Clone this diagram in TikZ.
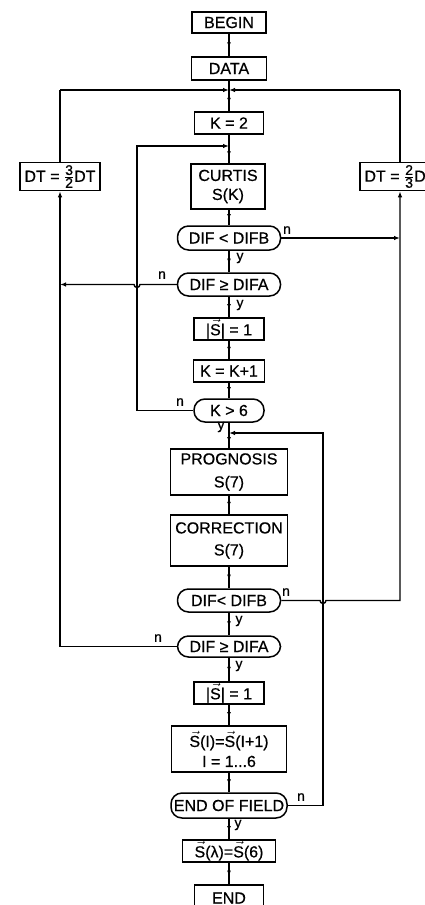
\documentclass[tikz,border=0pt]{standalone}
\usepackage{fontspec}
\setmainfont{Liberation Sans}[FakeBold=0.6]
\usetikzlibrary{arrows.meta,decorations.markings,calc}
\newcommand{\vecS}{\ensuremath{\vec{\mbox{S}}}}
\newcommand{\frc}[2]{\ensuremath{\frac{\mbox{\fontsize{14}{14}\selectfont #1}}{\mbox{\fontsize{14}{14}\selectfont #2}}}}
\tikzset{
  box/.style={draw, line width=1.5pt, inner sep=0pt, align=center, font=\fontsize{16}{21}\selectfont},
  dec/.style={box, rounded corners=11pt},
  line/.style={line width=1.4pt},
  midarrow/.style={line, postaction={decorate}, decoration={markings, mark=at position 0.6 with {\arrow{Latex[length=5pt,width=4pt]}}}},
  endarrow/.style={line, -{Latex[length=6pt,width=4.5pt]}},
  lab/.style={font=\fontsize{14}{16}\selectfont, inner sep=0pt},
}
\begin{document}
\begin{tikzpicture}[x=1pt,y=-1pt]
\useasboundingbox (0,0) rectangle (425,905);
% main column
\node[box, minimum width=74pt, minimum height=21pt] (begin) at (229,22.5) {BEGIN};
\node[box, minimum width=75pt, minimum height=23pt] (data) at (229,68.5) {DATA};
\node[box, minimum width=69pt, minimum height=22pt] (k2) at (229,123) {K = 2};
\node[box, minimum width=74pt, minimum height=45pt, font=\fontsize{16}{19}\selectfont] (curtis) at (228,186.5) {CURTIS\\S(K)};
\node[dec, minimum width=103pt, minimum height=24pt] (d1) at (229,238) {DIF < DIFB};
\node[dec, minimum width=103pt, minimum height=23pt] (a1) at (229,284.5) {DIF ≥ DIFA};
\node[box, minimum width=70pt, minimum height=22pt] (s1) at (229,329) {|\vecS| = 1};
\node[box, minimum width=71pt, minimum height=22pt] (kk) at (229,371) {K = K+1};
\node[dec, minimum width=70pt, minimum height=23pt] (k6) at (229,410.5) {K > 6};
\node[box, minimum width=117pt, minimum height=46pt, font=\fontsize{16}{23}\selectfont] (prog) at (229,472) {PROGNOSIS\\S(7)};
\node[box, minimum width=117pt, minimum height=51pt, font=\fontsize{16}{22}\selectfont] (corr) at (229,540.5) {CORRECTION\\S(7)};
\node[dec, minimum width=103pt, minimum height=23pt] (d2) at (229,600.5) {DIF< DIFB};
\node[dec, minimum width=103pt, minimum height=21pt] (a2) at (229,646.5) {DIF ≥ DIFA};
\node[box, minimum width=70pt, minimum height=22pt] (s2) at (229,693) {|\vecS| = 1};
\node[box, minimum width=115pt, minimum height=46pt, font=\fontsize{16}{20}\selectfont] (shift) at (229,749) {\vecS(I)=\vecS(I+1)\\I = 1...6};
\node[dec, minimum width=116pt, minimum height=25pt] (eof) at (229,805.5) {END OF FIELD};
\node[box, minimum width=93pt, minimum height=22pt] (slam) at (229,851) {\vecS(λ)=\vecS(6)};
\node[box, minimum width=69pt, minimum height=26pt] (end) at (229,898) {END};
% side boxes
\node[box, minimum width=80pt, minimum height=28pt] (dtl) at (60,176.5) {DT = \frc{3}{2}DT};
\node[box, minimum width=80pt, minimum height=28pt] (dtr) at (400,176.5) {DT = \frc{2}{3}DT};
% coordinates
\coordinate (j1) at (229,90);
\coordinate (jl) at (60,90);
\coordinate (jr) at (400,90);
\coordinate (j2) at (229,146);
\coordinate (c1) at (137,146);
\coordinate (j3) at (229,433);
\coordinate (c3) at (323,433);
\coordinate (r1) at (400,238);
\coordinate (r2) at (400,600.5);
\coordinate (l1) at (60,284.5);
\coordinate (l2) at (60,646.5);
% main flow
\draw[midarrow] (begin) -- (data);
\draw[line] (data) -- (j1);
\draw[midarrow] (j1) -- (k2);
\draw[line] (k2) -- (j2);
\draw[midarrow] (j2) -- (curtis.north -| j2);
\draw[midarrow] (curtis.south -| j2) -- (d1);
\draw[midarrow] (d1) -- (a1);
\draw[midarrow] (a1) -- (s1);
\draw[midarrow] (s1) -- (kk);
\draw[midarrow] (kk) -- (k6);
\draw[line] (k6) -- (j3);
\draw[midarrow] (j3) -- (prog);
\draw[midarrow] (prog) -- (corr);
\draw[midarrow] (corr) -- (d2);
\draw[midarrow] (d2) -- (a2);
\draw[midarrow] (a2) -- (s2);
\draw[midarrow] (s2) -- (shift);
\draw[midarrow] (shift) -- (eof);
\draw[midarrow] (eof) -- (slam);
\draw[midarrow] (slam) -- (end);
% DT loops into the top junction
\draw[line] (dtl.north) -- (jl);
\draw[endarrow] (jl) -- (j1);
\draw[line] (dtr.north) -- (jr);
\draw[endarrow] (jr) -- (j1);
% K>6 n loop
\draw[endarrow] (k6.west) -| (c1) -- (j2);
% DIF<DIFB n branches
\draw[endarrow] (d1.east) -- (r1);
\draw[endarrow] (d2.east) -- (320,600.5) arc[start angle=180, end angle=0, radius=3] -- (r2) -- (dtr.south);
% DIF>=DIFA n branches
\draw[endarrow] (a1.west) -- (140,284.5) arc[start angle=0, end angle=180, radius=3] -- (l1);
\draw[endarrow] (a2.west) -- (l2) -- (dtl.south);
% END OF FIELD n loop
\draw[endarrow] (eof.east) -| (c3) -- (j3);
% labels
\node[lab] (n1) at (287,230) {n};
\node[lab] (n2) at (162,275) {n};
\node[lab] (n3) at (180,402) {n};
\node[lab] (n4) at (286,592) {n};
\node[lab] (n5) at (158,638) {n};
\node[lab] (n6) at (301,797) {n};
\node[lab] (y1) at (240,258) {y};
\node[lab] (y2) at (240,305) {y};
\node[lab] (y3) at (221,427) {y};
\node[lab] (y4) at (239,621) {y};
\node[lab] (y5) at (239,666) {y};
\node[lab] (y6) at (238,825) {y};
\end{tikzpicture}
\end{document}
